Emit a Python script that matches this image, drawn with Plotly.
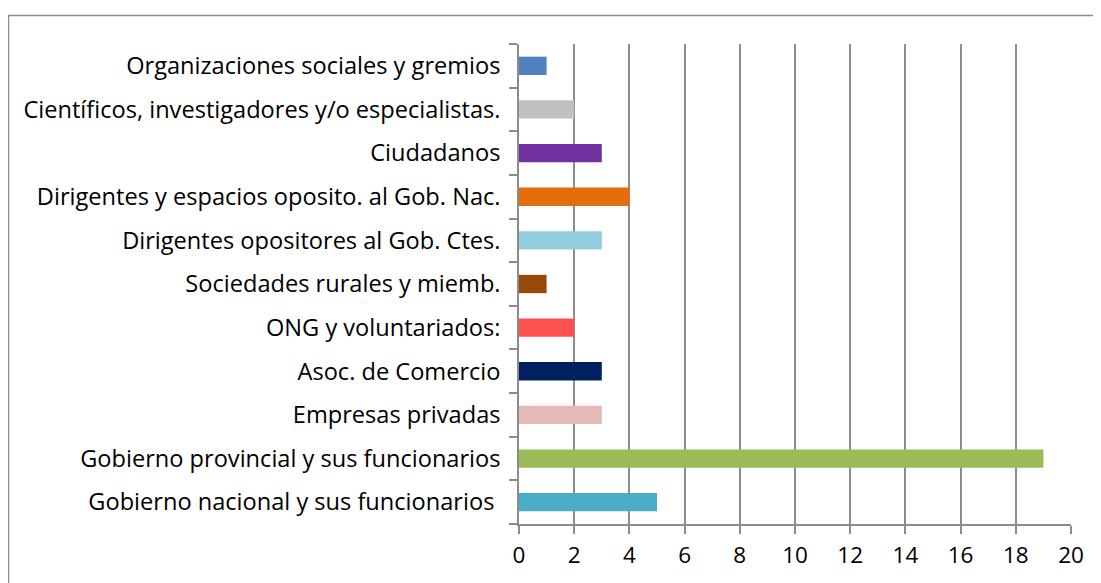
import plotly.graph_objects as go

categories = [
    "Organizaciones sociales y gremios",
    "Científicos, investigadores y/o especialistas.",
    "Ciudadanos",
    "Dirigentes y espacios oposito. al Gob. Nac.",
    "Dirigentes opositores al Gob. Ctes.",
    "Sociedades rurales y miemb.",
    "ONG y voluntariados:",
    "Asoc. de Comercio",
    "Empresas privadas",
    "Gobierno provincial y sus funcionarios",
    "Gobierno nacional y sus funcionarios\u00a0",
]
values = [1, 2, 3, 4, 3, 1, 2, 3, 3, 19, 5]
colors = ["#4F81BD", "#C0C0C0", "#7030A0", "#E46C0A", "#93CDDD", "#984807",
          "#FF5050", "#002060", "#E6B9B8", "#9BBB59", "#4BACC6"]
x_ticks = [0, 2, 4, 6, 8, 10, 12, 14, 16, 18, 20]

# plot bottom-to-top
cats = categories[::-1]
vals = values[::-1]
cols = colors[::-1]

OFF = 8  # page body margin
W, H = 1101 - OFF, 583 - OFF
L, T = 519 - OFF, 44 - OFF
R = W - (1071 - OFF)
B = H - (524 - OFF)
pw, ph = W - L - R, H - T - B

fig = go.Figure(go.Bar(
    x=vals, y=cats, orientation="h",
    marker=dict(color=cols, line=dict(width=0)),
    width=0.42,
))

def px_x(px):
    return (px - OFF - L) / pw

def px_y(py):
    return (H - B - (py - OFF)) / ph

fig.add_shape(type="rect", xref="paper", yref="paper",
              x0=px_x(8.5), x1=px_x(1099),
              y0=px_y(620), y1=px_y(15.5),
              line=dict(color="#8c8c8c", width=1.5), fillcolor="rgba(0,0,0,0)",
              layer="below")

font_family = "Open Sans, Noto Sans, sans-serif"
fig.update_layout(
    width=W, height=H,
    margin=dict(l=L, r=R, t=T, b=B),
    paper_bgcolor="white", plot_bgcolor="white",
    showlegend=False,
    font=dict(family=font_family, size=23, color="#000000"),
    xaxis=dict(
        range=[0, 20], tickvals=x_ticks, ticktext=[str(v) for v in x_ticks],
        showgrid=True, gridcolor="#8c8c8c", gridwidth=1.5,
        showline=True, linecolor="#8c8c8c", linewidth=1.5,
        ticks="outside", ticklen=8, tickcolor="#8c8c8c", tickwidth=1.5,
        zeroline=False, tickfont=dict(size=22.5),
        ticklabelstandoff=2,
    ),
    yaxis=dict(
        categoryorder="array", categoryarray=cats,
        showgrid=False,
        showline=True, linecolor="#8c8c8c", linewidth=1.5,
        ticks="outside", ticklen=8, tickcolor="#8c8c8c", tickwidth=1.5,
        tickson="boundaries",
        tickfont=dict(size=23.6),
        ticklabelstandoff=12,
    ),
)

fig.write_html("out.html")
